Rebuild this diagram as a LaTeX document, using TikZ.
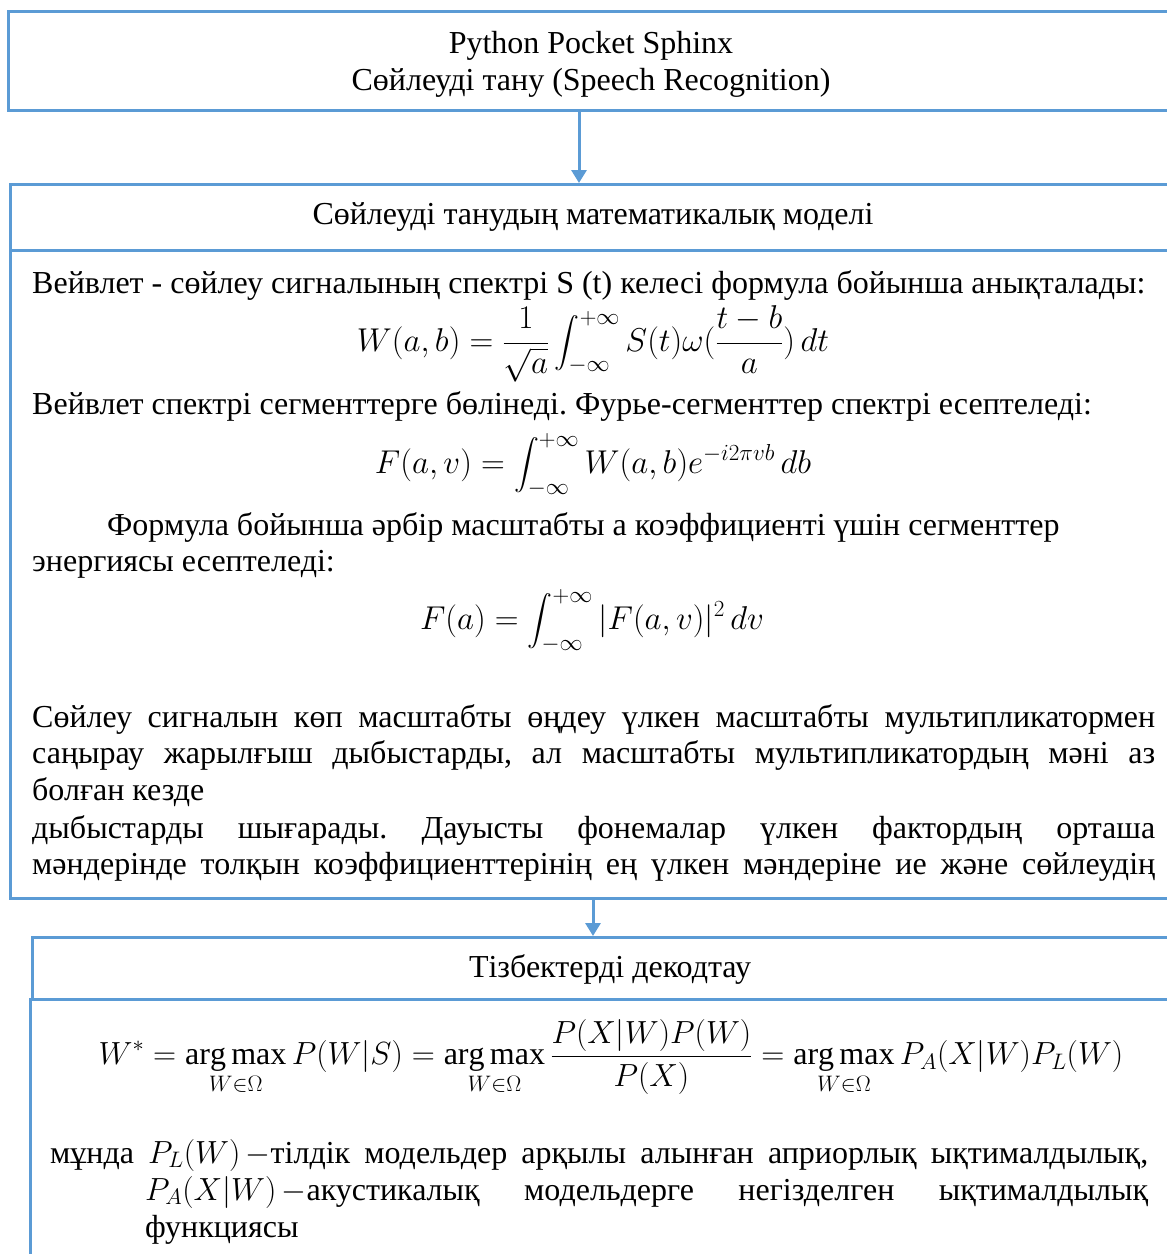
\documentclass[tikz,border=0pt]{standalone}
\usepackage{fix-cm}
\usepackage{amsmath}
\usepackage{fontspec}
\setmainfont{Liberation Serif}
\usetikzlibrary{arrows.meta}
\definecolor{bl}{HTML}{5B9BD5}
\tikzset{
  boxx/.style={draw=bl, line width=3pt, inner sep=0pt, anchor=north west},
  arr/.style={draw=bl, line width=3pt, -{Triangle[width=15pt,length=13pt]}},
  txt/.style={inner sep=0pt, anchor=base west},
  ctxt/.style={inner sep=0pt, anchor=base},
  mth/.style={inner sep=0pt, anchor=center, font=\fontsize{33}{38}\selectfont},
}
\newcommand{\jline}[1]{\makebox[1123pt][s]{#1}}
\newcommand{\jlineb}[2]{\makebox[#1][s]{#2}}
\frenchspacing
\begin{document}
\begin{tikzpicture}[x=1pt,y=-1pt,font=\fontsize{32}{37}\selectfont]
\useasboundingbox (0,0) rectangle (1167,1254);
\clip (0,0) rectangle (1167,1254);
% boxes
\node[boxx, minimum width=1180pt, minimum height=99pt] (b1) at (7,10) {};
\node[boxx, minimum width=1180pt, minimum height=66pt] (b2h) at (9,183) {};
\node[boxx, minimum width=1180pt, minimum height=648pt] (b2b) at (9,249) {};
\node[boxx, minimum width=1180pt, minimum height=62pt] (b3h) at (31,936) {};
\node[boxx, minimum width=1180pt, minimum height=300pt] (b3b) at (29,998) {};
% arrows
\coordinate (ax1) at (579,0);
\coordinate (ax2) at (593,0);
\draw[arr] (b1.south -| ax1) -- (b2h.north -| ax1);
\draw[arr] (b2b.south -| ax2) -- (b3h.north -| ax2);
% box 1
\node[ctxt] (h1a) at (591,53) {Python Pocket Sphinx};
\node[ctxt] (h1b) at (591,90) {Сөйлеуді тану (Speech Recognition)};
% box 2
\node[ctxt] (h2) at (593,224) {Сөйлеуді танудың математикалық моделі};
\node[txt] (t1) at (32,293) {Вейвлет - сөйлеу сигналының спектрі S (t) келесі формула бойынша анықталады:};
\node[mth] (f1) at (593,344) {$\displaystyle W(a,b)=\frac{1}{\sqrt{a}}\int_{-\infty}^{+\infty} S(t)\omega(\frac{t-b}{a})\,dt$};
\node[txt] (t2) at (32,414) {Вейвлет спектрі сегменттерге бөлінеді. Фурье-сегменттер спектрі есептеледі:};
\node[mth] (f2) at (593,465) {$\displaystyle F(a,v)=\int_{-\infty}^{+\infty} W(a,b)e^{-i2\pi vb}\,db$};
\node[txt] (t3) at (107,535) {Формула бойынша әрбір масштабты а коэффициенті үшін сегменттер};
\node[txt] (t4) at (32,571) {энергиясы есептеледі:};
\node[mth] (f3) at (592,621) {$\displaystyle F(a)=\int_{-\infty}^{+\infty} |F(a,v)|^2\,dv$};
\node[txt] (p1) at (32,727) {\jline{Сөйлеу сигналын көп масштабты өңдеу үлкен масштабты мультипликатормен}};
\node[txt] (p2) at (32,763) {\jline{саңырау жарылғыш дыбыстарды, ал масштабты мультипликатордың мәні аз}};
\node[txt] (p3) at (32,800) {болған кезде};
\node[txt] (p4) at (32,838) {\jline{дыбыстарды шығарады. Дауысты фонемалар үлкен фактордың орташа}};
\node[txt] (p5) at (32,874) {\jline{мәндерінде толқын коэффициенттерінің ең үлкен мәндеріне ие және сөйлеудің}};
% box 3
\node[ctxt] (h3) at (610,977) {Тізбектерді декодтау};
\node[mth, font=\fontsize{32}{37}\selectfont] (f4) at (611,1057) {$\displaystyle W^{*}=\mathop{\mathrm{arg\,max}}\limits_{W\in\Omega} P(W|S)=\mathop{\mathrm{arg\,max}}\limits_{W\in\Omega}\frac{P(X|W)P(W)}{P(X)}=\mathop{\mathrm{arg\,max}}\limits_{W\in\Omega} P_A(X|W)P_L(W)$};
\node[txt] (m1) at (50,1163) {\jlineb{1098pt}{мұнда $P_L(W)\,{-}$тілдік модельдер арқылы алынған априорлық ықтималдылық,}};
\node[txt] (m2) at (145,1200) {\jlineb{1003pt}{$P_A(X|W)\,{-}$акустикалық модельдерге негізделген ықтималдылық}};
\node[txt] (m3) at (145,1237) {функциясы};
\end{tikzpicture}
\end{document}
